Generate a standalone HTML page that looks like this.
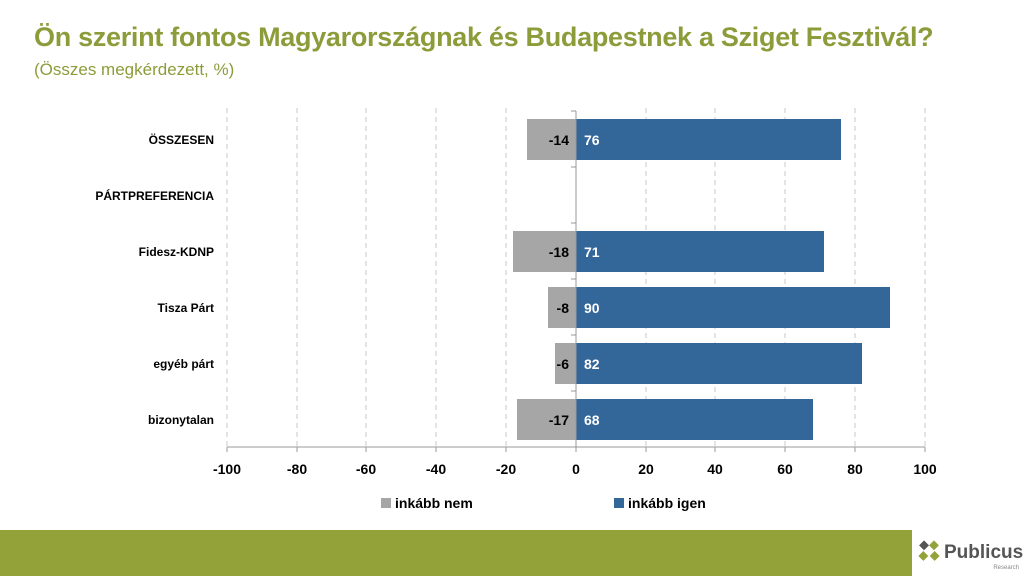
<!DOCTYPE html>
<html><head><meta charset="utf-8"><style>
body{margin:0;width:1024px;height:576px;background:#fff;position:relative;overflow:hidden;font-family:"Liberation Sans",sans-serif}
.t{position:absolute;left:34px;top:22px;font-size:27px;font-weight:bold;color:#8c9c3a;letter-spacing:-0.3px}
.s{position:absolute;left:34px;top:60px;font-size:17px;color:#8c9c3a}
</style></head><body>
<div class="t">Ön szerint fontos Magyarországnak és Budapestnek a Sziget Fesztivál?</div>
<div class="s">(Összes megkérdezett, %)</div>
<svg width="1024" height="576" style="position:absolute;left:0;top:0" font-family="Liberation Sans, sans-serif">
<g stroke="#c8c8c8" stroke-dasharray="5,4" stroke-width="1">
<line x1="227" y1="108" x2="227" y2="447"/><line x1="297" y1="108" x2="297" y2="447"/><line x1="366" y1="108" x2="366" y2="447"/><line x1="436" y1="108" x2="436" y2="447"/><line x1="506" y1="108" x2="506" y2="447"/><line x1="646" y1="108" x2="646" y2="447"/><line x1="715" y1="108" x2="715" y2="447"/><line x1="785" y1="108" x2="785" y2="447"/><line x1="855" y1="108" x2="855" y2="447"/><line x1="925" y1="108" x2="925" y2="447"/>
</g>
<g font-size="14" font-weight="bold">
<rect x="527" y="119" width="49" height="41" fill="#a6a6a6"/><rect x="576" y="119" width="265" height="41" fill="#336699"/>
<text x="569" y="145" text-anchor="end">-14</text><text x="584" y="145" fill="#fff">76</text>
<rect x="513" y="231" width="63" height="41" fill="#a6a6a6"/><rect x="576" y="231" width="248" height="41" fill="#336699"/>
<text x="569" y="257" text-anchor="end">-18</text><text x="584" y="257" fill="#fff">71</text>
<rect x="548" y="287" width="28" height="41" fill="#a6a6a6"/><rect x="576" y="287" width="314" height="41" fill="#336699"/>
<text x="569" y="313" text-anchor="end">-8</text><text x="584" y="313" fill="#fff">90</text>
<rect x="555" y="343" width="21" height="41" fill="#a6a6a6"/><rect x="576" y="343" width="286" height="41" fill="#336699"/>
<text x="569" y="369" text-anchor="end">-6</text><text x="584" y="369" fill="#fff">82</text>
<rect x="517" y="399" width="59" height="41" fill="#a6a6a6"/><rect x="576" y="399" width="237" height="41" fill="#336699"/>
<text x="569" y="425" text-anchor="end">-17</text><text x="584" y="425" fill="#fff">68</text>
</g>
<g stroke="#999" stroke-width="1">
<line x1="576" y1="111" x2="576" y2="447"/>
<line x1="571" y1="111" x2="576" y2="111"/><line x1="571" y1="167" x2="576" y2="167"/><line x1="571" y1="223" x2="576" y2="223"/><line x1="571" y1="279" x2="576" y2="279"/><line x1="571" y1="335" x2="576" y2="335"/><line x1="571" y1="391" x2="576" y2="391"/>
<line x1="227" y1="447" x2="925" y2="447"/>
<line x1="227" y1="447" x2="227" y2="452"/><line x1="297" y1="447" x2="297" y2="452"/><line x1="366" y1="447" x2="366" y2="452"/><line x1="436" y1="447" x2="436" y2="452"/><line x1="506" y1="447" x2="506" y2="452"/><line x1="576" y1="447" x2="576" y2="452"/><line x1="646" y1="447" x2="646" y2="452"/><line x1="715" y1="447" x2="715" y2="452"/><line x1="785" y1="447" x2="785" y2="452"/><line x1="855" y1="447" x2="855" y2="452"/><line x1="925" y1="447" x2="925" y2="452"/>
</g>
<g font-size="14" font-weight="bold" text-anchor="middle">
<text x="227" y="474">-100</text><text x="297" y="474">-80</text><text x="366" y="474">-60</text><text x="436" y="474">-40</text><text x="506" y="474">-20</text><text x="576" y="474">0</text><text x="646" y="474">20</text><text x="715" y="474">40</text><text x="785" y="474">60</text><text x="855" y="474">80</text><text x="925" y="474">100</text>
</g>
<g font-size="12" font-weight="bold" text-anchor="end">
<text x="214" y="144">ÖSSZESEN</text><text x="214" y="200">PÁRTPREFERENCIA</text><text x="214" y="256">Fidesz-KDNP</text><text x="214" y="312">Tisza Párt</text><text x="214" y="368">egyéb párt</text><text x="214" y="424">bizonytalan</text>
</g>
<rect x="381" y="498" width="10" height="10" fill="#a6a6a6"/><text x="395" y="508" font-size="14" font-weight="bold">inkább nem</text>
<rect x="614" y="498" width="10" height="10" fill="#336699"/><text x="628" y="508" font-size="14" font-weight="bold">inkább igen</text>
<rect x="0" y="530" width="912" height="46" fill="#94a23a"/>
<g transform="translate(929,551) rotate(45)"><rect x="-4" y="-11" width="7" height="7" fill="#94a23a"/><rect x="4" y="-4" width="7" height="7" fill="#94a23a"/><rect x="-11" y="-4" width="7" height="7" fill="#555"/><rect x="-4" y="4" width="7" height="7" fill="#94a23a"/></g>
<text x="944" y="558" font-size="19" font-weight="bold" fill="#555">Publicus</text>
<text x="1019" y="569" font-size="6" fill="#888" text-anchor="end">Research</text>
</svg>
</body></html>
